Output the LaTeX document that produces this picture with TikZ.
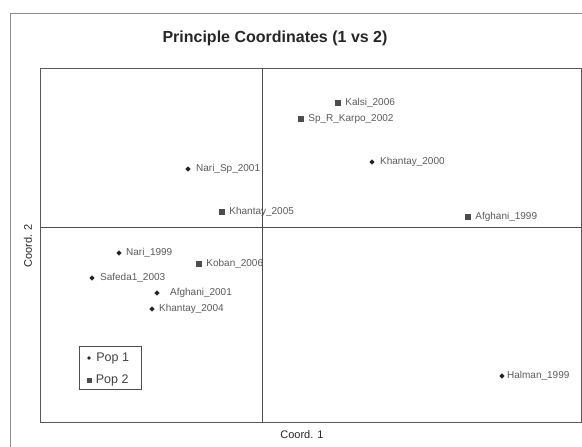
\documentclass[tikz,border=0pt]{standalone}
\usepackage{fontspec}
\setmainfont{Liberation Sans}
\usetikzlibrary{positioning,shapes.geometric}
\begin{document}
\begin{tikzpicture}[x = 1pt,
                    y = -1pt,
                    color = {black}]
% style of markers and labels
\tikzset{popone/.style={diamond,fill=black!85,draw=none,inner sep=0pt,minimum size=5.5pt}}
\tikzset{poptwo/.style={rectangle,fill=black!70,draw=none,inner sep=0pt,minimum size=6pt}}
\tikzset{ptlabel/.style={inner sep=0pt,text=black!65,font=\fontsize{10}{11}\selectfont}}
\useasboundingbox (0,0) rectangle (582,447);
% coordinates
%frame
\coordinate (F1) at (10, 447);
\coordinate (F2) at (10, 13);
\coordinate (F3) at (582, 13);
%plot area
\coordinate (P1) at (40, 68);
\coordinate (P2) at (581, 422);
%axes
\coordinate (A1) at (262, 68);
\coordinate (A2) at (262, 422);
\coordinate (A3) at (40, 227);
\coordinate (A4) at (581, 227);

%box
\draw [black!45, thick] (F1) -- (F2) -- (F3);
\draw [black!65, thick] (P1) rectangle (P2);
\draw [black!70, thin] (A1) -- (A2);
\draw [black!70, thin] (A3) -- (A4);

%titles
\node [font=\bfseries\fontsize{16}{18}\selectfont, text=black!85] (title) at (275, 38) {Principle Coordinates (1 vs 2)};
\node [font=\fontsize{11}{12}\selectfont, text=black!85] (xlab) at (302, 435) {Coord. 1};
\node [font=\fontsize{11}{12}\selectfont, text=black!85, rotate=90] (ylab) at (28, 246) {Coord. 2};

%pop 2
\node [poptwo] (m1) at (338, 103) {};
\node [ptlabel, right=4pt of m1] (t1) {Kalsi\_2006};
\node [poptwo] (m2) at (301, 119) {};
\node [ptlabel, right=4pt of m2] (t2) {Sp\_R\_Karpo\_2002};
\node [poptwo] (m3) at (468, 217) {};
\node [ptlabel, right=4pt of m3] (t3) {Afghani\_1999};
\node [poptwo] (m4) at (222, 212) {};
\node [ptlabel, right=4pt of m4] (t4) {Khantay\_2005};
\node [poptwo] (m5) at (199, 264) {};
\node [ptlabel, right=4pt of m5] (t5) {Koban\_2006};
%pop 1
\node [popone] (m6) at (372, 162) {};
\node [ptlabel, right=5pt of m6] (t6) {Khantay\_2000};
\node [popone] (m7) at (188, 169) {};
\node [ptlabel, right=5pt of m7] (t7) {Nari\_Sp\_2001};
\node [popone] (m8) at (119, 253) {};
\node [ptlabel, right=4pt of m8] (t8) {Nari\_1999};
\node [popone] (m9) at (92, 278) {};
\node [ptlabel, right=5pt of m9] (t9) {Safeda1\_2003};
\node [popone] (m10) at (157, 293) {};
\node [ptlabel, right=10pt of m10] (t10) {Afghani\_2001};
\node [popone] (m11) at (152, 309) {};
\node [ptlabel, right=4pt of m11] (t11) {Khantay\_2004};
\node [popone] (m12) at (502, 376) {};
\node [ptlabel, right=2pt of m12] (t12) {Halman\_1999};

%legend
\draw [black!70, thick] (79, 346) rectangle (141, 389);
\node [popone, minimum size=4pt] (lm1) at (89, 358) {};
\node [font=\fontsize{12.5}{13}\selectfont, text=black!75, inner sep=0pt, right=5pt of lm1] (lt1) {Pop 1};
\node [poptwo, minimum size=5pt] (lm2) at (89, 380) {};
\node [font=\fontsize{12.5}{13}\selectfont, text=black!75, inner sep=0pt, right=4pt of lm2] (lt2) {Pop 2};
\end{tikzpicture}
\end{document}
